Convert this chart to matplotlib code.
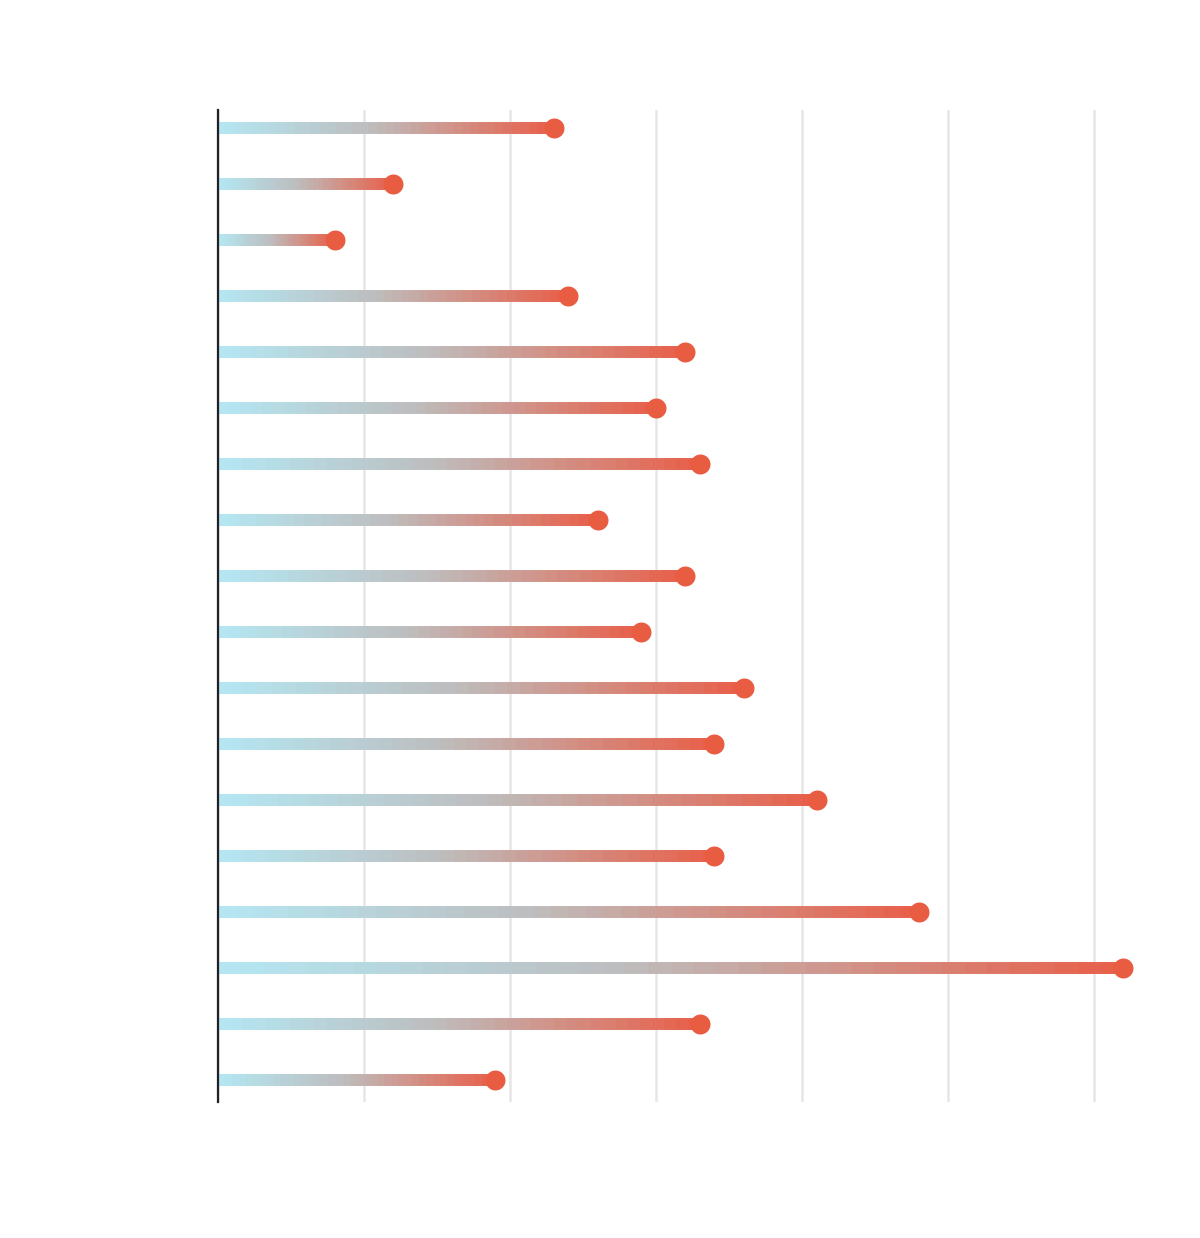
import numpy as np
import matplotlib
matplotlib.use("Agg")
from matplotlib import pyplot as plt
from matplotlib.collections import LineCollection
from matplotlib.colors import LinearSegmentedColormap

# one value per row, top to bottom
rows = list(range(18))
values = [23, 12, 8, 24, 32, 30, 33, 26, 32, 29, 36, 34, 41, 34, 48, 62, 33, 19]
grid_ticks = [0, 10, 20, 30, 40, 50, 60]

cmap = LinearSegmentedColormap.from_list(
    "stem", [(0.0, "#b3e6f2"), (0.45, "#bdbdbd"), (1.0, "#e8604a")])

fig = plt.figure(figsize=(12, 12.38), dpi=100)
ax = fig.add_axes([0.1817, 0.1099, 0.7933, 0.8012])

n_seg = 40
for y, v in zip(rows, values):
    xs = np.linspace(0, v, n_seg + 1)
    segs = [[(xs[i], y), (xs[i + 1], y)] for i in range(n_seg)]
    cols = cmap(np.linspace(0, 1, n_seg))
    lc = LineCollection(segs, colors=cols, linewidths=8.6, capstyle="butt", zorder=2)
    ax.add_collection(lc)

ax.plot(values, rows, "o", color="#e85d42", markersize=14.4, markeredgewidth=0, zorder=3)

ax.set_xlim(0, 65.2)
ax.set_ylim(17.39, -0.32)
ax.set_xticks(grid_ticks)
ax.set_yticks([])
ax.tick_params(length=0, labelbottom=False, labelleft=False)
ax.grid(axis="x", color="#e6e6e6", linewidth=1.8, zorder=0)
ax.set_axisbelow(True)
for s in ["top", "right", "bottom"]:
    ax.spines[s].set_visible(False)
ax.spines["left"].set_color("#222222")
ax.spines["left"].set_linewidth(1.6)
ax.spines["left"].set_zorder(4)

fig.savefig("out.png", dpi=100, facecolor="white")
